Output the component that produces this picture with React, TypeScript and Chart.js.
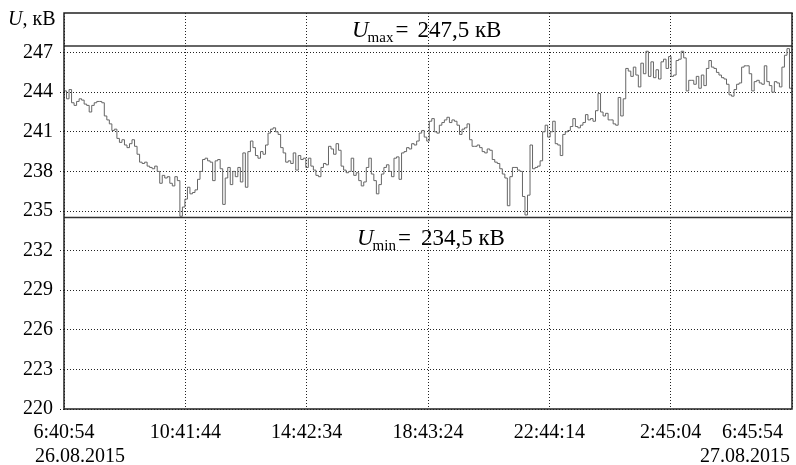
import React, { useEffect, useRef } from 'react';
import { Chart, registerables } from 'chart.js';

Chart.register(...registerables);

// minutes between samples, counted from 6:40:54 26.08.2015
const stepMinutes = 5;

// phase voltage, kV (one value every 5 minutes)
const voltage = [
  244.2, 244.1, 243.5, 244.2, 243.2, 243.0, 243.3, 243.5, 243.4, 243.1,
  243.0, 242.5, 243.0, 243.2, 243.3, 243.3, 243.2, 242.2, 241.9, 241.6,
  241.1, 241.2, 240.5, 240.2, 240.4, 240.0, 239.8, 240.1, 240.4, 239.9,
  239.3, 238.7, 238.6, 238.7, 238.4, 238.3, 238.2, 238.4, 238.0, 237.1,
  237.7, 237.5, 237.6, 237.1, 236.9, 237.6, 237.3, 234.6, 235.3, 235.9,
  236.8, 236.3, 236.4, 236.6, 237.4, 238.0, 238.9, 239.0, 238.8, 238.7,
  237.3, 238.8, 238.9, 238.2, 235.5, 237.5, 238.3, 237.0, 238.0, 237.6,
  238.3, 237.2, 239.4, 236.8, 239.5, 240.3, 239.8, 239.2, 239.0, 239.5,
  239.3, 240.0, 240.9, 241.2, 241.3, 241.0, 240.8, 239.8, 239.4, 238.7,
  238.8, 238.6, 239.4, 238.1, 239.2, 238.9, 239.0, 238.3, 239.0, 238.4,
  238.1, 237.7, 237.6, 238.3, 238.6, 238.5, 239.9, 239.7, 239.3, 240.1,
  239.6, 238.4, 238.1, 237.9, 238.0, 239.0, 237.7, 237.9, 237.3, 236.9,
  237.2, 238.3, 239.0, 237.8, 237.3, 236.3, 237.0, 237.8, 238.3, 238.5,
  238.0, 237.6, 239.0, 239.1, 237.4, 239.4, 239.5, 239.8, 239.7, 240.1,
  240.0, 240.3, 240.9, 241.1, 240.6, 240.3, 241.8, 242.0, 241.0, 240.9,
  241.5, 241.7, 241.9, 242.1, 241.7, 241.9, 241.8, 241.5, 240.8, 241.2,
  241.3, 241.6, 240.4, 239.9, 239.9, 240.0, 239.8, 239.5, 239.4, 239.7,
  239.6, 238.9, 238.7, 238.6, 238.2, 237.8, 237.5, 235.4, 237.6, 238.3,
  238.3, 238.1, 238.0, 236.1, 234.7, 236.2, 240.0, 238.2, 238.3, 238.4,
  238.8, 241.0, 241.5, 240.6, 241.0, 241.8, 240.1, 240.0, 239.2, 240.8,
  241.0, 241.1, 241.4, 242.0, 241.4, 241.3, 241.5, 241.7, 242.3, 241.9,
  242.0, 241.8, 242.6, 243.9, 242.5, 242.2, 242.4, 241.9, 241.9, 241.6,
  241.5, 243.6, 242.2, 243.5, 245.8, 245.6, 245.2, 245.9, 245.3, 244.4,
  246.2, 245.4, 247.1, 245.2, 246.3, 245.1, 245.7, 245.0, 246.3, 246.5,
  245.8, 246.7, 245.2, 245.3, 246.4, 246.5, 247.1, 246.6, 244.1, 244.9,
  244.9, 244.6, 245.2, 244.3, 245.3, 244.5, 245.8, 246.4, 245.9, 245.8,
  245.5, 245.3, 245.1, 245.0, 244.6, 243.8, 243.7, 244.2, 244.6, 244.7,
  245.9, 246.0, 246.0, 245.4, 244.1, 244.8, 244.9, 244.7, 244.6, 246.0,
  244.8, 244.5, 244.0, 244.8, 244.7, 244.4, 245.9, 246.8, 247.3, 244.3,
];

const xTickMinutes = [0, 240.833, 481.667, 722.5, 963.333, 1204.167, 1445];
const xTickTimes = ['6:40:54', '10:41:44', '14:42:34', '18:43:24', '22:44:14', '2:45:04', '6:45:54'];
const xTickDates = ['26.08.2015', '', '', '', '', '', '27.08.2015'];
const yTicks = [220, 223, 226, 229, 232, 235, 238, 241, 244, 247];
const yMin = 220;
const yMax = 250;
const uMax = 247.5;
const uMin = 234.5;
const unit = 'кВ';

const SERIF = '"Liberation Serif", "Times New Roman", serif';

function fmt(v: number) {
  return v.toFixed(1).replace('.', ',');
}

function drawULabel(ctx: CanvasRenderingContext2D, x0: number, base: number, sub: string, value: number, gap: number) {
  ctx.textAlign = 'left';
  ctx.font = `italic 23px ${SERIF}`;
  ctx.fillText('U', x0, base);
  let x = x0 + ctx.measureText('U').width - 1;
  ctx.font = `15px ${SERIF}`;
  ctx.fillText(sub, x, base + 5);
  x += ctx.measureText(sub).width + 2;
  ctx.font = `23px ${SERIF}`;
  ctx.fillText('=', x, base);
  x += ctx.measureText('=').width + gap;
  ctx.fillText(`${fmt(value)} ${unit}`, x, base);
}

const overlay = {
  id: 'overlay',
  afterDraw(chart: any) {
    const { ctx, chartArea: a, scales } = chart;
    const xs = scales.x;
    const ys = scales.y;
    ctx.save();
    // frame
    ctx.strokeStyle = '#222';
    ctx.lineWidth = 1.5;
    ctx.strokeRect(a.left, a.top, a.right - a.left, a.bottom - a.top);

    ctx.fillStyle = '#000';
    ctx.textBaseline = 'alphabetic';

    // axis title
    ctx.textAlign = 'left';
    ctx.font = `italic 20px ${SERIF}`;
    ctx.fillText('U', 8, 25);
    const wu = ctx.measureText('U').width;
    ctx.font = `20px ${SERIF}`;
    ctx.fillText(`, ${unit}`, 8 + wu, 25);

    // x tick labels
    ctx.font = `20px ${SERIF}`;
    const n = xTickMinutes.length;
    xTickMinutes.forEach((m, i) => {
      const px = xs.getPixelForValue(m);
      if (i === n - 1) {
        ctx.textAlign = 'right';
        ctx.fillText(xTickTimes[i], px - 9, 438);
      } else {
        ctx.textAlign = 'center';
        ctx.fillText(xTickTimes[i], px, 438);
      }
      if (xTickDates[i]) {
        if (i === 0) {
          ctx.textAlign = 'left';
          ctx.fillText(xTickDates[i], px - 29, 462);
        } else {
          ctx.textAlign = 'right';
          ctx.fillText(xTickDates[i], px - 2, 462);
        }
      }
    });

    // Umax / Umin labels
    drawULabel(ctx, a.left + 288, ys.getPixelForValue(uMax) - 9, 'max', uMax, 9);
    drawULabel(ctx, a.left + 293, ys.getPixelForValue(uMin) + 27, 'min', uMin, 10);
    ctx.restore();
  },
};

export default function App() {
  const ref = useRef<HTMLCanvasElement | null>(null);

  useEffect(() => {
    if (!ref.current) return;
    const series = voltage.map((v, i) => ({ x: i * stepMinutes, y: v }));
    const tEnd = xTickMinutes[xTickMinutes.length - 1];
    const chart = new Chart(ref.current, {
      type: 'line',
      data: {
        datasets: [
          {
            data: series,
            borderColor: '#666',
            borderWidth: 1,
            pointRadius: 0,
            stepped: 'after',
            fill: false,
          },
          {
            data: [{ x: 0, y: uMax }, { x: tEnd, y: uMax }],
            borderColor: '#333',
            borderWidth: 1.5,
            pointRadius: 0,
          },
          {
            data: [{ x: 0, y: uMin }, { x: tEnd, y: uMin }],
            borderColor: '#333',
            borderWidth: 1.5,
            pointRadius: 0,
          },
        ],
      },
      options: {
        animation: false,
        responsive: false,
        devicePixelRatio: 1,
        events: [],
        layout: { padding: { top: 13, right: 4, left: 0, bottom: 0 } },
        plugins: { legend: { display: false }, tooltip: { enabled: false } },
        scales: {
          x: {
            type: 'linear',
            min: 0,
            max: tEnd,
            afterBuildTicks: (s: any) => {
              s.ticks = xTickMinutes.map((v) => ({ value: v }));
            },
            afterFit: (s: any) => {
              s.height = 56;
              s.paddingLeft = 0;
              s.paddingRight = 0;
            },
            ticks: { display: false },
            grid: { color: '#222', lineWidth: 1, drawTicks: false },
            border: { display: false, dash: [1, 2] },
          },
          y: {
            type: 'linear',
            min: yMin,
            max: yMax,
            afterBuildTicks: (s: any) => {
              s.ticks = yTicks.map((v) => ({ value: v }));
            },
            afterFit: (s: any) => {
              s.width = 64;
              s.paddingTop = 0;
              s.paddingBottom = 0;
            },
            ticks: {
              color: '#000',
              padding: 7,
              font: { family: SERIF, size: 20 },
              callback: (v: any) => String(v),
            },
            grid: {
              color: '#222',
              lineWidth: 1,
              tickLength: 4,
              tickColor: '#222',
              tickBorderDash: [1, 2],
            },
            border: { display: false, dash: [1, 2] },
          },
        },
      },
      plugins: [overlay],
    });
    return () => chart.destroy();
  }, []);

  return (
    <div style={{ position: 'fixed', left: 0, top: 0, width: 796, height: 465, background: '#fff' }}>
      <canvas ref={ref} width={796} height={465} style={{ display: 'block' }} />
    </div>
  );
}
